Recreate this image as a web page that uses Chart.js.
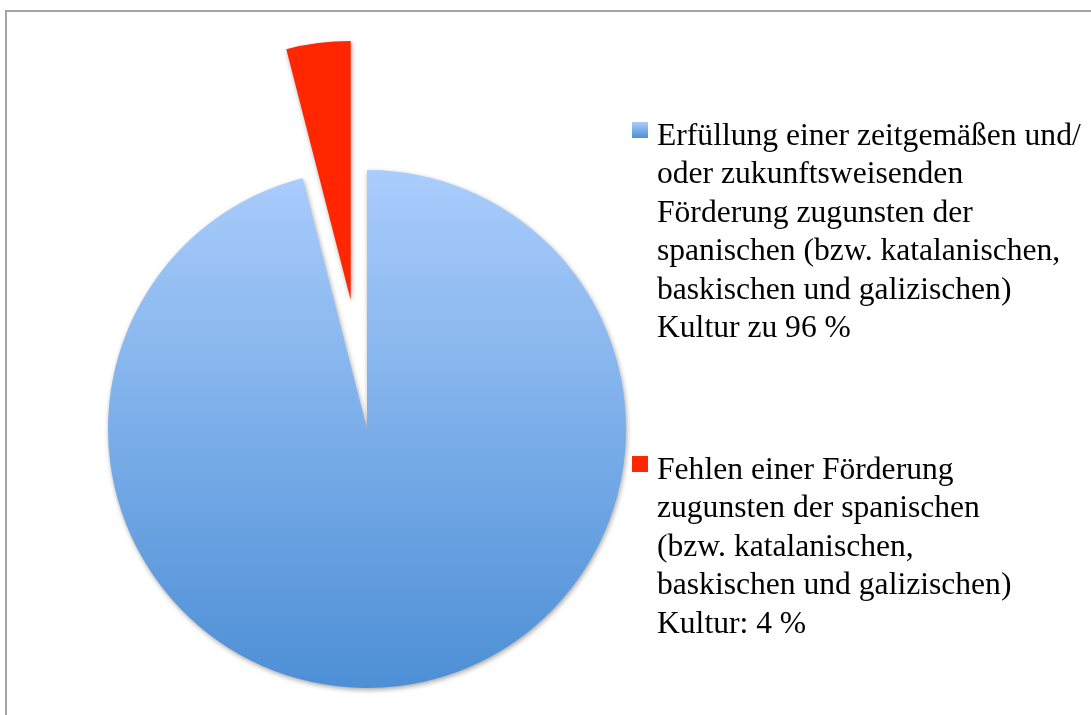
<!DOCTYPE html>
<html>
<head>
<meta charset="utf-8">
<script src="https://cdn.jsdelivr.net/npm/chart.js@4/dist/chart.umd.min.js"></script>
<style>
  html, body { margin: 0; padding: 0; background: #fff; overflow: hidden; }
  #wrap { position: relative; width: 1091px; height: 715px; }
  #frame { position: absolute; left: 5px; top: 10px; width: 1200px; height: 800px;
           border-left: 2px solid #a4a4a4; border-top: 2px solid #a4a4a4; box-sizing: border-box; }
  canvas { position: absolute; left: 0; top: 0; }
</style>
</head>
<body>
<div id="wrap">
  <div id="frame"></div>
  <canvas id="base" width="1091" height="715"></canvas>
  <canvas id="exploded" width="1091" height="715"></canvas>
</div>
<script>
const categories = [
  ["Erfüllung einer zeitgemäßen und/", "oder zukunftsweisenden", "Förderung zugunsten der", "spanischen (bzw. katalanischen,", "baskischen und galizischen)", "Kultur zu 96 %"],
  ["Fehlen einer Förderung", "zugunsten der spanischen", "(bzw. katalanischen,", "baskischen und galizischen)", "Kultur: 4 %"]
];
const shares = [96, 4];

// layout / style constants
const RADIUS = 259;
const CENTER = { x: 367, y: 429 };
const EXPLODE = 130;      // distance the red slice is pulled out
const W = 1091, H = 715;
const BLUE_TOP = '#aacdfc', BLUE_BOTTOM = '#4d8fd6', RED = '#ff2600';

function paddingFor(cx, cy) {
  // chart area centre = (left + W - right)/2 etc.
  const lr = 2 * cx - W; // left - right
  const tb = 2 * cy - H; // top - bottom
  return {
    left: Math.max(lr, 0), right: Math.max(-lr, 0),
    top: Math.max(tb, 0), bottom: Math.max(-tb, 0)
  };
}

function fillFor(visibleIndex) {
  return (c) => {
    if (c.dataIndex !== visibleIndex) return 'rgba(0,0,0,0)';
    if (c.dataIndex === 1) return RED;
    const chart = c.chart;
    const a = chart.chartArea;
    if (!a) return BLUE_BOTTOM;
    const cy = (a.top + a.bottom) / 2;
    const g = chart.ctx.createLinearGradient(0, cy - RADIUS, 0, cy + RADIUS);
    g.addColorStop(0, BLUE_TOP);
    g.addColorStop(1, BLUE_BOTTOM);
    return g;
  };
}

const shadowPlugin = {
  id: 'shadow',
  beforeDatasetsDraw(chart) {
    const ctx = chart.ctx;
    ctx.save();
    ctx.shadowColor = 'rgba(0,0,0,0.35)';
    ctx.shadowBlur = 5;
    ctx.shadowOffsetX = 1;
    ctx.shadowOffsetY = 2;
  },
  afterDatasetsDraw(chart) { chart.ctx.restore(); }
};

const legendPlugin = {
  id: 'customLegend',
  afterDraw(chart) {
    const ctx = chart.ctx;
    const labels = chart.data.labels;
    const starts = [145, 479];
    const lineH = 38.4;
    const textX = 657;
    ctx.save();
    ctx.font = '31.6px "Liberation Serif", "Times New Roman", serif';
    ctx.textBaseline = 'alphabetic';
    labels.forEach((lines, i) => {
      const base = starts[i];
      const mx = 632, my = base - 23, ms = 16;
      if (i === 0) {
        const g = ctx.createLinearGradient(0, my, 0, my + ms);
        g.addColorStop(0, BLUE_TOP);
        g.addColorStop(1, BLUE_BOTTOM);
        ctx.fillStyle = g;
      } else {
        ctx.fillStyle = RED;
      }
      ctx.fillRect(mx, my, ms, ms);
      ctx.fillStyle = '#000';
      lines.forEach((ln, j) => ctx.fillText(ln, textX, base + j * lineH));
    });
    ctx.restore();
  }
};

function makePie(canvasId, visibleIndex, cx, cy, extraPlugins) {
  return new Chart(document.getElementById(canvasId), {
    type: 'pie',
    data: {
      labels: categories,
      datasets: [{
        data: shares,
        backgroundColor: fillFor(visibleIndex),
        borderWidth: 0,
        hoverOffset: 0,
        radius: RADIUS,
        clip: false
      }]
    },
    options: {
      responsive: false,
      animation: false,
      radius: RADIUS,
      layout: { padding: paddingFor(cx, cy) },
      plugins: { legend: { display: false }, tooltip: { enabled: false } },
      events: []
    },
    plugins: [shadowPlugin].concat(extraPlugins)
  });
}

// direction of the exploded slice: bisector of the last slice (clockwise from 12 o'clock)
const total = shares.reduce((a, b) => a + b, 0);
const startFrac = shares.slice(0, 1).reduce((a, b) => a + b, 0) / total;
const midAngle = -Math.PI / 2 + 2 * Math.PI * (startFrac + shares[1] / total / 2);
const ex = CENTER.x + Math.cos(midAngle) * EXPLODE;
const ey = CENTER.y + Math.sin(midAngle) * EXPLODE;

makePie('base', 0, CENTER.x, CENTER.y, [legendPlugin]);
makePie('exploded', 1, ex, ey, []);
</script>
</body>
</html>
